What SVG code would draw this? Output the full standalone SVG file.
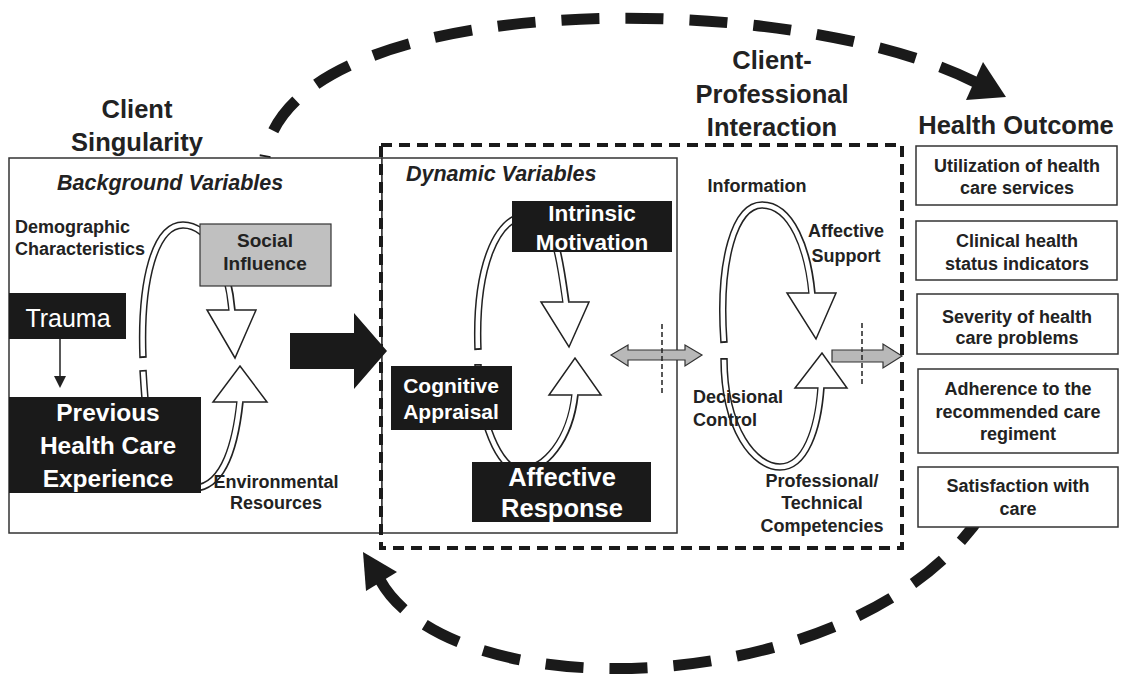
<svg xmlns="http://www.w3.org/2000/svg" width="1128" height="686" viewBox="0 0 1128 686">
<style>
text{font-family:"Liberation Sans",Arial,sans-serif;font-weight:bold;fill:#222}
.t{font-size:25.5px;text-anchor:middle}
.v{font-size:21.5px;font-style:italic}
.l{font-size:18px}
.c{text-anchor:middle}
.w{fill:#fff;text-anchor:middle}
.box{fill:#fff;stroke:#333;stroke-width:1.5}
.blk{fill:#1a1a1a}
.bo{fill:none;stroke:#222;stroke-width:7.5}
.bi{fill:none;stroke:#fff;stroke-width:4.5;stroke-dasharray:0 1.8 2000}
.hd{fill:#fff;stroke:#222;stroke-width:1.5;stroke-linejoin:miter}
.big{fill:none;stroke:#1a1a1a;stroke-width:11;stroke-dasharray:38 26}
.thin{stroke:#222;stroke-width:1.5;stroke-dasharray:5 3}
.gray{fill:#b8b8b8;stroke:#333;stroke-width:1.2}
</style>

<g id="frames">
<rect x="9" y="158" width="373" height="375" class="box"/>
<rect x="382" y="158" width="295" height="375" class="box"/>
</g>

<g id="connectors">
<!-- background loop -->
<path class="bo" d="M 143 358 C 140 280 155 225 183 225 C 210 225 228 265 232 310"/>
<polygon class="hd" points="207,310 256,310 235,358"/>
<path class="bi" d="M 143 358 C 140 280 155 225 183 225 C 210 225 228 265 232 312"/>
<path class="bo" d="M 143 370 C 146 420 150 490 195 488 C 225 486 236 440 240 402"/>
<polygon class="hd" points="213,402 267,402 240,366"/>
<path class="bi" d="M 143 370 C 146 420 150 490 195 488 C 225 486 236 440 240 400"/>
<!-- dynamic loop -->
<path class="bo" d="M 478 350 C 475 270 495 215 530 215 C 555 215 560 260 566 302"/>
<polygon class="hd" points="541,302 589,302 569,347"/>
<path class="bi" d="M 478 350 C 475 270 495 215 530 215 C 555 215 560 260 566 304"/>
<path class="bo" d="M 478 364 C 478 420 500 470 520 470 C 545 470 570 440 575 395"/>
<polygon class="hd" points="549,395 601,395 575,358"/>
<path class="bi" d="M 478 364 C 478 420 500 470 520 470 C 545 470 570 440 575 393"/>
<!-- interaction loop -->
<path class="bo" d="M 724 343 C 718 260 735 205 762 205 C 792 205 808 250 812 293"/>
<polygon class="hd" points="787,293 836,293 816,339"/>
<path class="bi" d="M 724 343 C 718 260 735 205 762 205 C 792 205 808 250 812 295"/>
<path class="bo" d="M 724 358 C 724 430 755 467 780 467 C 805 467 818 430 821 388"/>
<polygon class="hd" points="795,388 847,388 822,353"/>
<path class="bi" d="M 724 358 C 724 430 755 467 780 467 C 805 467 818 430 821 386"/>
<!-- trauma arrow -->
<line x1="60" y1="339" x2="60" y2="377" stroke="#222" stroke-width="1.5"/>
<polygon points="54,376 66,376 60,388" fill="#222"/>
<!-- big black arrow -->
<polygon class="blk" points="290,333 354,333 354,313 387,351 354,389 354,369 290,369"/>
<!-- gray arrows -->
<polygon class="gray" points="611,355 628,345 628,350 685,350 685,345 702,355 685,366 685,360 628,360 628,366"/>
<polygon class="gray" points="832,350 883,350 883,344 902,356 883,368 883,362 832,362"/>
<line class="thin" x1="662" y1="324" x2="662" y2="393"/>
<line class="thin" x1="862" y1="323" x2="862" y2="384"/>
<!-- dashed interaction frame -->
<rect x="381" y="145" width="521" height="403" fill="none" stroke="#1a1a1a" stroke-width="4" stroke-dasharray="11 7"/>
<!-- big dashed arcs -->
<path class="big" d="M 975 82 C 780 -15 290 -10 265 157"/>
<polygon class="blk" points="983,62 966,100 1006,97"/>
<path class="big" d="M 380 580 C 455 715 870 700 988 505"/>
<polygon class="blk" points="363,552 397,572 366,591"/>
</g>

<g id="client-singularity">
<text class="t" x="137" y="118">Client</text>
<text class="t" x="137" y="151">Singularity</text>
</g>
<g id="background-variables">
<text class="v" x="57" y="190">Background Variables</text>
</g>
<g id="demographic">
<text class="l" x="15" y="233">Demographic</text>
<text class="l" x="15" y="255">Characteristics</text>
</g>
<g id="social-influence">
<rect x="200" y="224" width="131" height="62" fill="#c0c0c0" stroke="#333" stroke-width="1.2"/>
<text class="c" x="265" y="247" font-size="19">Social</text>
<text class="c" x="265" y="270" font-size="19">Influence</text>
</g>
<g id="trauma">
<rect x="9" y="293" width="117" height="46" class="blk"/>
<text class="w" x="68" y="327" font-size="25" style="font-weight:normal">Trauma</text>
</g>
<g id="previous-experience">
<rect x="9" y="397" width="192" height="96" class="blk"/>
<text class="w" x="108" y="421" font-size="24.5">Previous</text>
<text class="w" x="108" y="454" font-size="24.5">Health Care</text>
<text class="w" x="108" y="487" font-size="24.5">Experience</text>
</g>
<g id="environmental">
<text class="l c" x="276" y="488">Environmental</text>
<text class="l c" x="276" y="509">Resources</text>
</g>
<g id="dynamic-variables">
<text class="v" x="406" y="181">Dynamic Variables</text>
</g>
<g id="intrinsic-motivation">
<rect x="512" y="201" width="160" height="51" class="blk"/>
<text class="w" x="592" y="221" font-size="22.5">Intrinsic</text>
<text class="w" x="592" y="250" font-size="22.5">Motivation</text>
</g>
<g id="cognitive-appraisal">
<rect x="391" y="366" width="121" height="64" class="blk"/>
<text class="w" x="451" y="393" font-size="21">Cognitive</text>
<text class="w" x="451" y="419" font-size="21">Appraisal</text>
</g>
<g id="affective-response">
<rect x="472" y="462" width="179" height="60" class="blk"/>
<text class="w" x="562" y="486" font-size="25.5">Affective</text>
<text class="w" x="562" y="517" font-size="25.5">Response</text>
</g>
<g id="client-professional">
<text class="t" x="772" y="69">Client-</text>
<text class="t" x="772" y="103">Professional</text>
<text class="t" x="772" y="136">Interaction</text>
</g>
<g id="information"><text class="l c" x="757" y="192">Information</text></g>
<g id="affective-support">
<text class="l c" x="846" y="237">Affective</text>
<text class="l c" x="846" y="262">Support</text>
</g>
<g id="decisional-control">
<text class="l" x="693" y="403">Decisional</text>
<text class="l" x="693" y="426">Control</text>
</g>
<g id="professional-competencies">
<text class="l c" x="822" y="487">Professional/</text>
<text class="l c" x="822" y="509">Technical</text>
<text class="l c" x="822" y="532">Competencies</text>
</g>
<g id="health-outcome">
<text class="t" x="1016" y="134">Health Outcome</text>
</g>
<g id="outcome-utilization">
<rect x="916" y="146" width="201" height="59" class="box"/>
<text class="l c" x="1017" y="172">Utilization of health</text>
<text class="l c" x="1017" y="194">care services</text>
</g>
<g id="outcome-clinical">
<rect x="916" y="221" width="201" height="59" class="box"/>
<text class="l c" x="1017" y="247">Clinical health</text>
<text class="l c" x="1017" y="270">status indicators</text>
</g>
<g id="outcome-severity">
<rect x="917" y="294" width="201" height="60" class="box"/>
<text class="l c" x="1017" y="323">Severity of health</text>
<text class="l c" x="1017" y="344">care problems</text>
</g>
<g id="outcome-adherence">
<rect x="918" y="369" width="200" height="84" class="box"/>
<text class="l c" x="1018" y="395">Adherence to the</text>
<text class="l c" x="1018" y="418">recommended care</text>
<text class="l c" x="1018" y="440">regiment</text>
</g>
<g id="outcome-satisfaction">
<rect x="918" y="467" width="200" height="60" class="box"/>
<text class="l c" x="1018" y="492">Satisfaction with</text>
<text class="l c" x="1018" y="515">care</text>
</g>
</svg>
